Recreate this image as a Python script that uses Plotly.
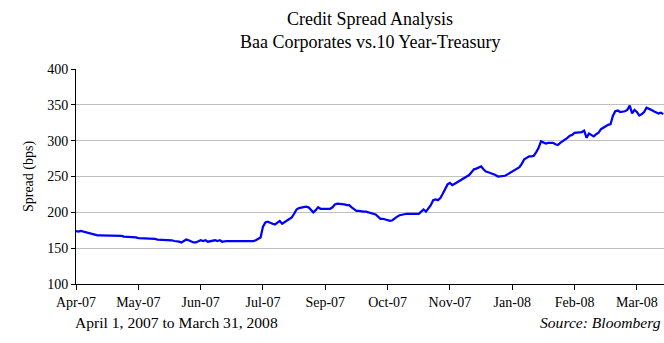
import plotly.graph_objects as go

spread = [
    174, 173, 174, 173, 172, 172, 171, 170, 169, 168, 168,
    168, 167, 167, 167, 167, 167, 167, 168,
    167, 166, 166, 165, 165, 165, 165,
    164, 164, 164, 164, 163, 164, 163, 163, 162, 162, 162, 161,
    161, 161, 161, 160, 160, 159, 158, 160, 162, 161, 159, 158, 158,
    160, 161, 160, 161, 159, 160, 160,
    161, 160, 161, 159, 160, 160, 160, 160, 159, 159,
    159, 159, 159, 159, 159, 159, 160, 161, 163, 165, 180, 186, 187,
    185, 184, 183, 185, 188, 184, 186, 188, 191, 193, 198, 204, 206, 207, 208, 208,
    207, 204, 200, 203, 207, 205, 205, 206, 205, 205, 207, 211, 212, 212, 212,
    211, 210, 210, 207, 204, 202, 202, 201, 201, 201, 200, 199, 199, 197, 194,
    191, 191, 190, 189, 188, 189, 192, 194, 196, 197, 198,
    198, 198, 198, 198, 198, 198, 201, 204, 201, 205, 210, 217, 218, 217, 220,
    226, 233, 239, 241, 238, 240, 242, 243, 245, 248, 250, 252, 256, 260, 261,
    262, 264, 260, 257, 256, 255, 254, 252, 250, 250, 251, 251, 253, 255, 258,
    260, 261, 263, 268, 274, 276, 278, 278, 279, 284, 290, 299, 297, 296, 297,
    297, 297, 295, 294, 297, 299, 302, 304, 307, 308, 311, 311, 311, 312, 314,
    304, 310, 308, 306, 309, 311, 316, 318, 321, 322, 323, 335, 341, 342, 340,
    340, 341, 343, 349, 338, 343, 340, 335, 337, 340, 346, 345, 343, 341, 340,
    338, 339, 337,
]

tick_step = 26
tick_labels = ["Apr-07", "May-07", "Jun-07", "Jul-07", "Sep-07", "Oct-07",
               "Nov-07", "Jan-08", "Feb-08", "Mar-08"]
tick_positions = [i * tick_step for i in range(len(tick_labels))]
x_idx = list(range(len(spread)))

title_line1 = "Credit Spread Analysis"
title_line2 = "Baa Corporates vs.10 Year-Treasury"
footnote_left = "April 1, 2007 to March 31, 2008"
footnote_right = "<i>Source: Bloomberg</i>"

serif = "Liberation Serif, Times New Roman, serif"

fig = go.Figure()
fig.add_trace(go.Scatter(
    x=x_idx, y=spread, mode="lines",
    line=dict(color="#0000ff", width=2.25),
    hoverinfo="skip", showlegend=False,
))

fig.update_layout(
    width=664, height=343,
    margin=dict(l=76, r=0, t=69, b=59),
    paper_bgcolor="white", plot_bgcolor="white",
    font=dict(family=serif, size=14, color="black"),
    xaxis=dict(
        range=[0, len(spread) - 1 + 0.3],
        tickvals=tick_positions, ticktext=tick_labels,
        ticks="outside", ticklen=5, tickcolor="black", tickwidth=1,
        showline=True, linecolor="black", linewidth=1,
        showgrid=False, zeroline=False,
        tickfont=dict(family=serif, size=14),
    ),
    yaxis=dict(
        range=[100, 400], dtick=50,
        ticks="outside", ticklen=4, tickcolor="black", tickwidth=1,
        showline=True, linecolor="black", linewidth=1,
        showgrid=True, gridcolor="#c0c0c0", gridwidth=1,
        zeroline=False,
        title=dict(text="Spread (bps)", font=dict(family=serif, size=14), standoff=10),
        tickfont=dict(family=serif, size=14),
    ),
    annotations=[
        dict(text=title_line1, xref="paper", yref="paper",
             x=0.5, y=1.2326, xanchor="center", yanchor="middle", showarrow=False,
             font=dict(family=serif, size=18)),
        dict(text=title_line2, xref="paper", yref="paper",
             x=0.5, y=1.1256, xanchor="center", yanchor="middle", showarrow=False,
             font=dict(family=serif, size=18)),
        dict(text=footnote_left, xref="paper", yref="paper",
             x=-0.005, y=-0.178, xanchor="left", yanchor="middle", showarrow=False,
             font=dict(family=serif, size=15.6)),
        dict(text=footnote_right, xref="paper", yref="paper",
             x=0.998, y=-0.178, xanchor="right", yanchor="middle", showarrow=False,
             font=dict(family=serif, size=15.6)),
    ],
)

fig.write_html("out.html")
